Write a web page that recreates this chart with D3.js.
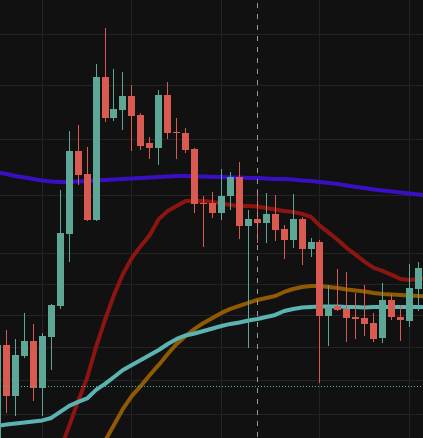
<!DOCTYPE html>
<html>
<head>
<meta charset="utf-8">
<script src="https://cdn.jsdelivr.net/npm/d3@7"></script>
<style>
  html, body { margin: 0; padding: 0; background: #111111; overflow: hidden; }
  svg { display: block; }
</style>
</head>
<body>
<script>
var width = 423,
    height = 438;

// candles, index -1 .. 46 (first one is cut off at the left edge)
var firstIdx = -1;
var opens  = [17.15, 18.545, 17.777, 18.377, 18.607, 17.896, 18.669, 19.156, 20.335, 21.785, 21.373, 20.573, 23.165, 22.390, 22.539, 22.803, 22.446, 21.930, 21.839, 22.822, 22.131, 22.113, 21.821, 20.865, 20.865, 20.693, 20.987, 21.320, 20.471, 20.590, 20.522, 20.676, 20.419, 20.234, 20.590, 20.084, 20.200, 18.997, 19.156, 19.108, 18.981, 18.966, 18.887, 18.653, 19.251, 18.981, 18.918, 19.427];
var highs  = [18.56, 18.778, 18.638, 19.045, 18.872, 18.731, 19.187, 21.091, 22.150, 22.261, 21.857, 23.416, 24.126, 23.318, 23.261, 23.012, 22.483, 22.039, 22.916, 23.069, 22.390, 22.205, 21.839, 20.987, 21.056, 21.462, 21.409, 21.587, 20.744, 21.109, 21.039, 21.004, 20.488, 21.021, 20.625, 20.268, 20.234, 19.492, 19.753, 19.703, 19.363, 19.492, 19.045, 19.524, 19.347, 19.171, 19.835, 19.868];
var lows   = [17.14, 17.528, 17.484, 18.346, 17.703, 17.484, 18.164, 19.108, 19.868, 21.179, 20.56, 20.56, 22.316, 22.335, 22.168, 21.785, 21.803, 21.641, 21.534, 22.002, 21.641, 21.749, 20.693, 20.117, 20.608, 20.573, 20.744, 20.251, 18.499, 20.184, 20.184, 20.217, 19.918, 20.100, 19.819, 19.951, 17.970, 18.530, 19.076, 18.591, 18.638, 18.684, 18.591, 18.576, 18.934, 18.607, 18.825, 19.076];
var closes = [18.55, 17.777, 18.392, 18.607, 17.896, 18.684, 19.171, 20.352, 21.785, 21.355, 20.573, 23.165, 22.390, 22.558, 22.803, 22.427, 21.875, 21.839, 22.822, 22.113, 22.113, 21.803, 20.848, 20.848, 20.693, 20.987, 21.320, 20.471, 20.590, 20.522, 20.676, 20.402, 20.234, 20.590, 20.084, 20.200, 18.997, 19.140, 19.092, 18.966, 18.950, 18.872, 18.638, 19.251, 18.981, 18.934, 19.443, 19.769];

// moving averages, index -1 .. 47 (null = not drawn)
var maPurple = [21.400, 21.373, 21.338, 21.311, 21.285, 21.258, 21.241, 21.232, 21.232, 21.241, 21.249, 21.258, 21.267, 21.276, 21.285, 21.294, 21.302, 21.311, 21.320, 21.329, 21.338, 21.338, 21.329, 21.329, 21.320, 21.320, 21.311, 21.311, 21.302, 21.302, 21.294, 21.285, 21.285, 21.276, 21.258, 21.249, 21.232, 21.214, 21.197, 21.170, 21.144, 21.126, 21.100, 21.082, 21.065, 21.047, 21.030, 21.013, 20.995];
var maRed = [null, null, null, null, null, null, null,
  16.996, 17.340, 17.703, 18.044, 18.515, 18.934, 19.331, 19.671, 19.934, 20.134, 20.318, 20.590, 20.727, 20.813, 20.900, 20.900, 20.900, 20.882, 20.856, 20.830, 20.813, 20.813, 20.804, 20.779, 20.753, 20.727, 20.710, 20.676, 20.625, 20.471, 20.352, 20.234, 20.100, 19.984, 19.868, 19.769, 19.720, 19.655, 19.589, 19.573, 19.589, 19.606];
var maOrange = [null, null, null, null, null, null, null, null, null, null, null,
  16.926, 17.125, 17.354, 17.587, 17.777, 17.925, 18.089, 18.240, 18.407, 18.561, 18.684, 18.794, 18.887, 18.966, 19.045, 19.108, 19.156, 19.203, 19.251, 19.283, 19.315, 19.379, 19.427, 19.459, 19.476, 19.476, 19.459, 19.443, 19.419, 19.403, 19.387, 19.363, 19.347, 19.339, 19.331, 19.323, 19.315, 19.307];
var maCyan = [17.340, 17.361, 17.376, 17.390, 17.405, 17.419, 17.455, 17.543, 17.630, 17.689, 17.740, 17.866, 17.955, 18.059, 18.164, 18.240, 18.316, 18.392, 18.468, 18.560, 18.638, 18.692, 18.723, 18.762, 18.801, 18.840, 18.872, 18.895, 18.926, 18.950, 18.981, 19.013, 19.076, 19.108, 19.132, 19.140, 19.148, 19.148, 19.148, 19.140, 19.140, 19.132, 19.140, 19.140, 19.140, 19.140, 19.140, 19.140, 19.140];

// grid: price ticks (log scale) and time ticks (candle index)
var priceTicks = [24, 23, 22, 21, 20, 19.5, 19, 18.5, 18, 17.5];
var timeTicks = [4, 14, 24, 35, 45];

var crosshairIdx = 28;
var priceLine = 17.915;

var upColor = "#5ea797",
    downColor = "#d85a51";

// scales
var xScale = d3.scaleLinear().domain([0, 46]).range([6.5, 418.5]);
var yScale = d3.scaleLog().domain([24.693, 17.167]).range([0, height]);

var svg = d3.select("body").append("svg")
    .attr("width", width)
    .attr("height", height);

svg.append("rect")
    .attr("width", width)
    .attr("height", height)
    .attr("fill", "#111111");

// grid lines
var grid = svg.append("g")
    .attr("stroke", "#232323")
    .attr("stroke-width", 1)
    .attr("shape-rendering", "crispEdges");

grid.selectAll(".hgrid")
    .data(priceTicks)
  .enter().append("line")
    .attr("class", "hgrid")
    .attr("x1", 0)
    .attr("x2", width)
    .attr("y1", function(d) { return Math.floor(yScale(d)) + 0.5; })
    .attr("y2", function(d) { return Math.floor(yScale(d)) + 0.5; });

grid.selectAll(".vgrid")
    .data(timeTicks)
  .enter().append("line")
    .attr("class", "vgrid")
    .attr("y1", 0)
    .attr("y2", height)
    .attr("x1", function(d) { return Math.floor(xScale(d)) + 0.5; })
    .attr("x2", function(d) { return Math.floor(xScale(d)) + 0.5; });

// moving average lines
var maData = [
  {values: maPurple, color: "#3a0fc4"},
  {values: maRed, color: "#8c1511"},
  {values: maOrange, color: "#8f5a03"},
  {values: maCyan, color: "#5bb4b2"}
];

var line = d3.line()
    .defined(function(d) { return d.v != null; })
    .x(function(d) { return xScale(d.i); })
    .y(function(d) { return yScale(d.v); });

svg.selectAll(".ma")
    .data(maData)
  .enter().append("path")
    .attr("class", "ma")
    .attr("fill", "none")
    .attr("stroke", function(d) { return d.color; })
    .attr("stroke-width", 4)
    .attr("stroke-linejoin", "round")
    .attr("d", function(d) {
      return line(d.values.map(function(v, k) { return {i: k + firstIdx, v: v}; }));
    });

// candles
var candles = opens.map(function(o, k) {
  return {i: k + firstIdx, o: o, h: highs[k], l: lows[k], c: closes[k]};
});

var cg = svg.selectAll(".candle")
    .data(candles)
  .enter().append("g")
    .attr("class", "candle")
    .attr("shape-rendering", "crispEdges")
    .style("fill", function(d) { return d.c >= d.o ? upColor : downColor; })
    .style("stroke", function(d) { return d.c >= d.o ? upColor : downColor; });

cg.append("line")
    .attr("x1", function(d) { return Math.floor(xScale(d.i)) + 0.5; })
    .attr("x2", function(d) { return Math.floor(xScale(d.i)) + 0.5; })
    .attr("y1", function(d) { return Math.round(yScale(d.h)); })
    .attr("y2", function(d) { return Math.round(yScale(d.l)); })
    .attr("stroke-width", 1);

cg.append("rect")
    .attr("x", function(d) { return Math.floor(xScale(d.i)) - 3; })
    .attr("width", 7)
    .attr("y", function(d) { return Math.round(yScale(Math.max(d.o, d.c))); })
    .attr("height", function(d) {
      return Math.max(1, Math.round(yScale(Math.min(d.o, d.c))) - Math.round(yScale(Math.max(d.o, d.c))));
    })
    .style("stroke", "none");

// dotted price line
svg.append("line")
    .attr("x1", 0)
    .attr("x2", width)
    .attr("y1", Math.floor(yScale(priceLine)) + 0.5)
    .attr("y2", Math.floor(yScale(priceLine)) + 0.5)
    .attr("stroke", "#4fb9a3")
    .attr("stroke-width", 1)
    .attr("stroke-dasharray", "1,2")
    .attr("shape-rendering", "crispEdges");

// crosshair
svg.append("line")
    .attr("x1", Math.floor(xScale(crosshairIdx)) + 0.5)
    .attr("x2", Math.floor(xScale(crosshairIdx)) + 0.5)
    .attr("y1", 0)
    .attr("y2", height)
    .attr("stroke", "#9a9a9a")
    .attr("stroke-width", 1)
    .attr("stroke-dasharray", "5,6")
    .attr("stroke-dashoffset", 8)
    .attr("shape-rendering", "crispEdges");
</script>
</body>
</html>
